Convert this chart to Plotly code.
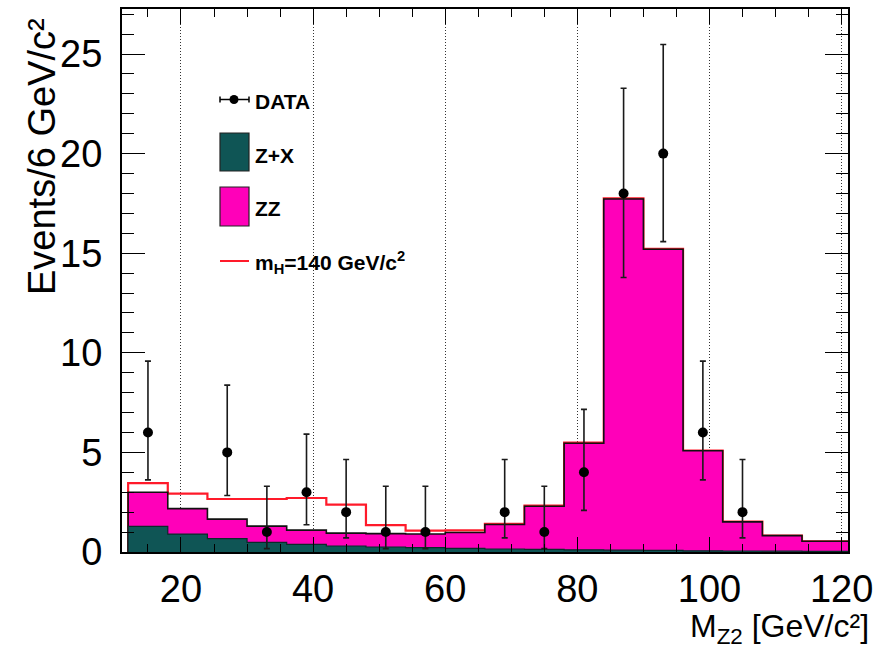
import plotly.graph_objects as go

# ---------------- data ----------------
bin_edges = [12, 18, 24, 30, 36, 42, 48, 54, 60, 66, 72, 78, 84, 90, 96, 102, 108, 114, 120, 126]
zx_vals = [1.29, 0.90, 0.67, 0.48, 0.38, 0.30, 0.25, 0.22, 0.18, 0.15, 0.13, 0.11, 0.09, 0.08, 0.06, 0.05, 0.04, 0.03, 0.03]
zz_vals = [1.71, 1.28, 0.98, 0.82, 0.72, 0.65, 0.67, 0.68, 0.80, 1.23, 2.17, 5.35, 17.63, 15.12, 5.02, 1.46, 0.78, 0.51, 0.51]
sig_vals = [0.46, 0.75, 1.01, 1.36, 1.61, 1.43, 0.43, 0.17, 0.11, 0.03, 0.03, 0.03, 0.03, 0.02, 0.01, 0.01, 0.0, 0.0, 0.0]

data_x = [15, 27, 33, 39, 45, 51, 57, 69, 75, 81, 87, 93, 99, 105]
data_y = [6, 5, 1, 3, 2, 1, 1, 2, 1, 4, 18, 20, 6, 2]
err_up = [3.58, 3.38, 2.30, 2.92, 2.64, 2.30, 2.30, 2.64, 2.30, 3.16, 5.28, 5.48, 3.58, 2.64]
err_dn = [2.38, 2.16, 0.83, 1.63, 1.29, 0.83, 0.83, 1.29, 0.83, 1.91, 4.22, 4.42, 2.38, 1.29]

x_ticks = [20, 40, 60, 80, 100, 120]
y_ticks = [0, 5, 10, 15, 20, 25]

legend_labels = ["DATA", "Z+X", "ZZ", "m<sub>H</sub>=140 GeV/c<sup>2</sup>"]

MAGENTA = "#ff00b9"
TEAL = "#0f5555"
RED = "#ff1a2a"

# stacked values
total_vals = [a + b for a, b in zip(zx_vals, zz_vals)]
red_vals = [t + s for t, s in zip(total_vals, sig_vals)]


def step(vals):
    xs = [bin_edges[0]] + list(bin_edges)
    ys = [0] + list(vals) + [vals[-1]]
    return xs, ys


fig = go.Figure()

xs, ys = step(red_vals)
fig.add_trace(go.Scatter(x=xs, y=ys, mode="lines", line=dict(color=RED, width=2.2, shape="hv"),
                         showlegend=False, hoverinfo="skip"))
xs, ys = step(total_vals)
fig.add_trace(go.Scatter(x=xs, y=ys, mode="lines", line=dict(color="#111", width=1.6, shape="hv"),
                         fill="tozeroy", fillcolor=MAGENTA, showlegend=False, hoverinfo="skip"))
xs, ys = step(zx_vals)
fig.add_trace(go.Scatter(x=xs, y=ys, mode="lines", line=dict(color="#0a2a2a", width=1.2, shape="hv"),
                         fill="tozeroy", fillcolor=TEAL, showlegend=False, hoverinfo="skip"))

fig.add_trace(go.Scatter(
    x=data_x, y=data_y, mode="markers",
    marker=dict(color="black", size=10),
    error_y=dict(type="data", symmetric=False, array=err_up, arrayminus=err_dn,
                 color="#1a1a1a", thickness=1.6, width=3),
    showlegend=False, hoverinfo="skip"))

# plot-area pixel geometry
L, R, T, B = 122, 848, 9, 552


def px(v):
    return (v - L) / (R - L)


def py(v):
    return (B - v) / (B - T)


shapes = []
annotations = []
# white legend background covering gridlines
shapes.append(dict(type="rect", xref="paper", yref="paper", layer="between",
                   x0=px(205), x1=px(424), y0=py(342), y1=py(72),
                   fillcolor="white", line=dict(width=0)))
# DATA symbol
shapes.append(dict(type="line", xref="paper", yref="paper", x0=px(220), x1=px(249), y0=py(99.5), y1=py(99.5),
                   line=dict(color="black", width=1.5)))
for xe in (220, 249):
    shapes.append(dict(type="line", xref="paper", yref="paper", x0=px(xe), x1=px(xe), y0=py(96.5), y1=py(102.5),
                       line=dict(color="black", width=1.5)))
shapes.append(dict(type="circle", xref="paper", yref="paper", x0=px(229.5), x1=px(238.5), y0=py(104), y1=py(95),
                   fillcolor="black", line=dict(color="black", width=0)))
# Z+X box
shapes.append(dict(type="rect", xref="paper", yref="paper", x0=px(220), x1=px(249), y0=py(171), y1=py(133),
                   fillcolor=TEAL, line=dict(color="#222", width=1.2)))
# ZZ box
shapes.append(dict(type="rect", xref="paper", yref="paper", x0=px(220), x1=px(249), y0=py(226), y1=py(187),
                   fillcolor=MAGENTA, line=dict(color="#222", width=1.2)))
# mH line
shapes.append(dict(type="line", xref="paper", yref="paper", x0=px(220), x1=px(249), y0=py(261), y1=py(261),
                   line=dict(color=RED, width=2)))

for lab, yc in zip(legend_labels, [101, 155, 209, 262]):
    annotations.append(dict(text="<b>" + lab + "</b>", xref="paper", yref="paper", x=px(253), y=py(yc),
                            xanchor="left", yanchor="middle", showarrow=False,
                            font=dict(family="Liberation Sans, Arial, sans-serif", size=21, color="black")))

# axis titles
annotations.append(dict(text="Events/6 GeV/c²", xref="paper", yref="paper", x=px(42), y=py(157),
                        xanchor="center", yanchor="middle", textangle=-90, showarrow=False,
                        font=dict(family="Liberation Sans, Arial, sans-serif", size=38, color="black")))
annotations.append(dict(text="M<sub>Z2</sub> [GeV/c²]", xref="paper", yref="paper", x=px(871), y=py(628),
                        xanchor="right", yanchor="middle", showarrow=False,
                        font=dict(family="Liberation Sans, Arial, sans-serif", size=32, color="black")))

xfont = dict(family="Liberation Sans, Arial, sans-serif", size=38, color="black")
yfont = dict(family="Liberation Sans, Arial, sans-serif", size=38, color="black")

fig.update_layout(
    width=893, height=650,
    margin=dict(l=L, r=893 - R, t=T, b=650 - B, autoexpand=False),
    paper_bgcolor="white", plot_bgcolor="white",
    shapes=shapes, annotations=annotations,
    showlegend=False,
    xaxis=dict(range=[11.07, 120.97], tickvals=x_ticks, ticktext=[str(v) for v in x_ticks],
               ticks="inside", ticklen=15, tickwidth=1.3, tickcolor="black",
               minor=dict(dtick=5, tick0=0, ticks="inside", ticklen=8, tickwidth=1.3, tickcolor="black", showgrid=False),
               showgrid=True, gridcolor="#333", gridwidth=1, griddash="1px,2px",
               showline=True, linecolor="black", linewidth=2, mirror="ticks", automargin=False,
               zeroline=False, tickfont=xfont, ticklabelstandoff=2),
    yaxis=dict(range=[0, 27.26], tickvals=y_ticks, ticktext=[str(v) for v in y_ticks],
               ticks="inside", ticklen=23, tickwidth=1.3, tickcolor="black",
               minor=dict(dtick=1, tick0=0, ticks="inside", ticklen=12, tickwidth=1.3, tickcolor="black", showgrid=False),
               showgrid=False, automargin=False,
               showline=True, linecolor="black", linewidth=2, mirror="ticks",
               zeroline=False, tickfont=yfont, ticklabelstandoff=10),
)

fig.write_html("out.html", config={"displayModeBar": False},
               post_script="document.body.style.margin='0';document.body.style.padding='0';")
